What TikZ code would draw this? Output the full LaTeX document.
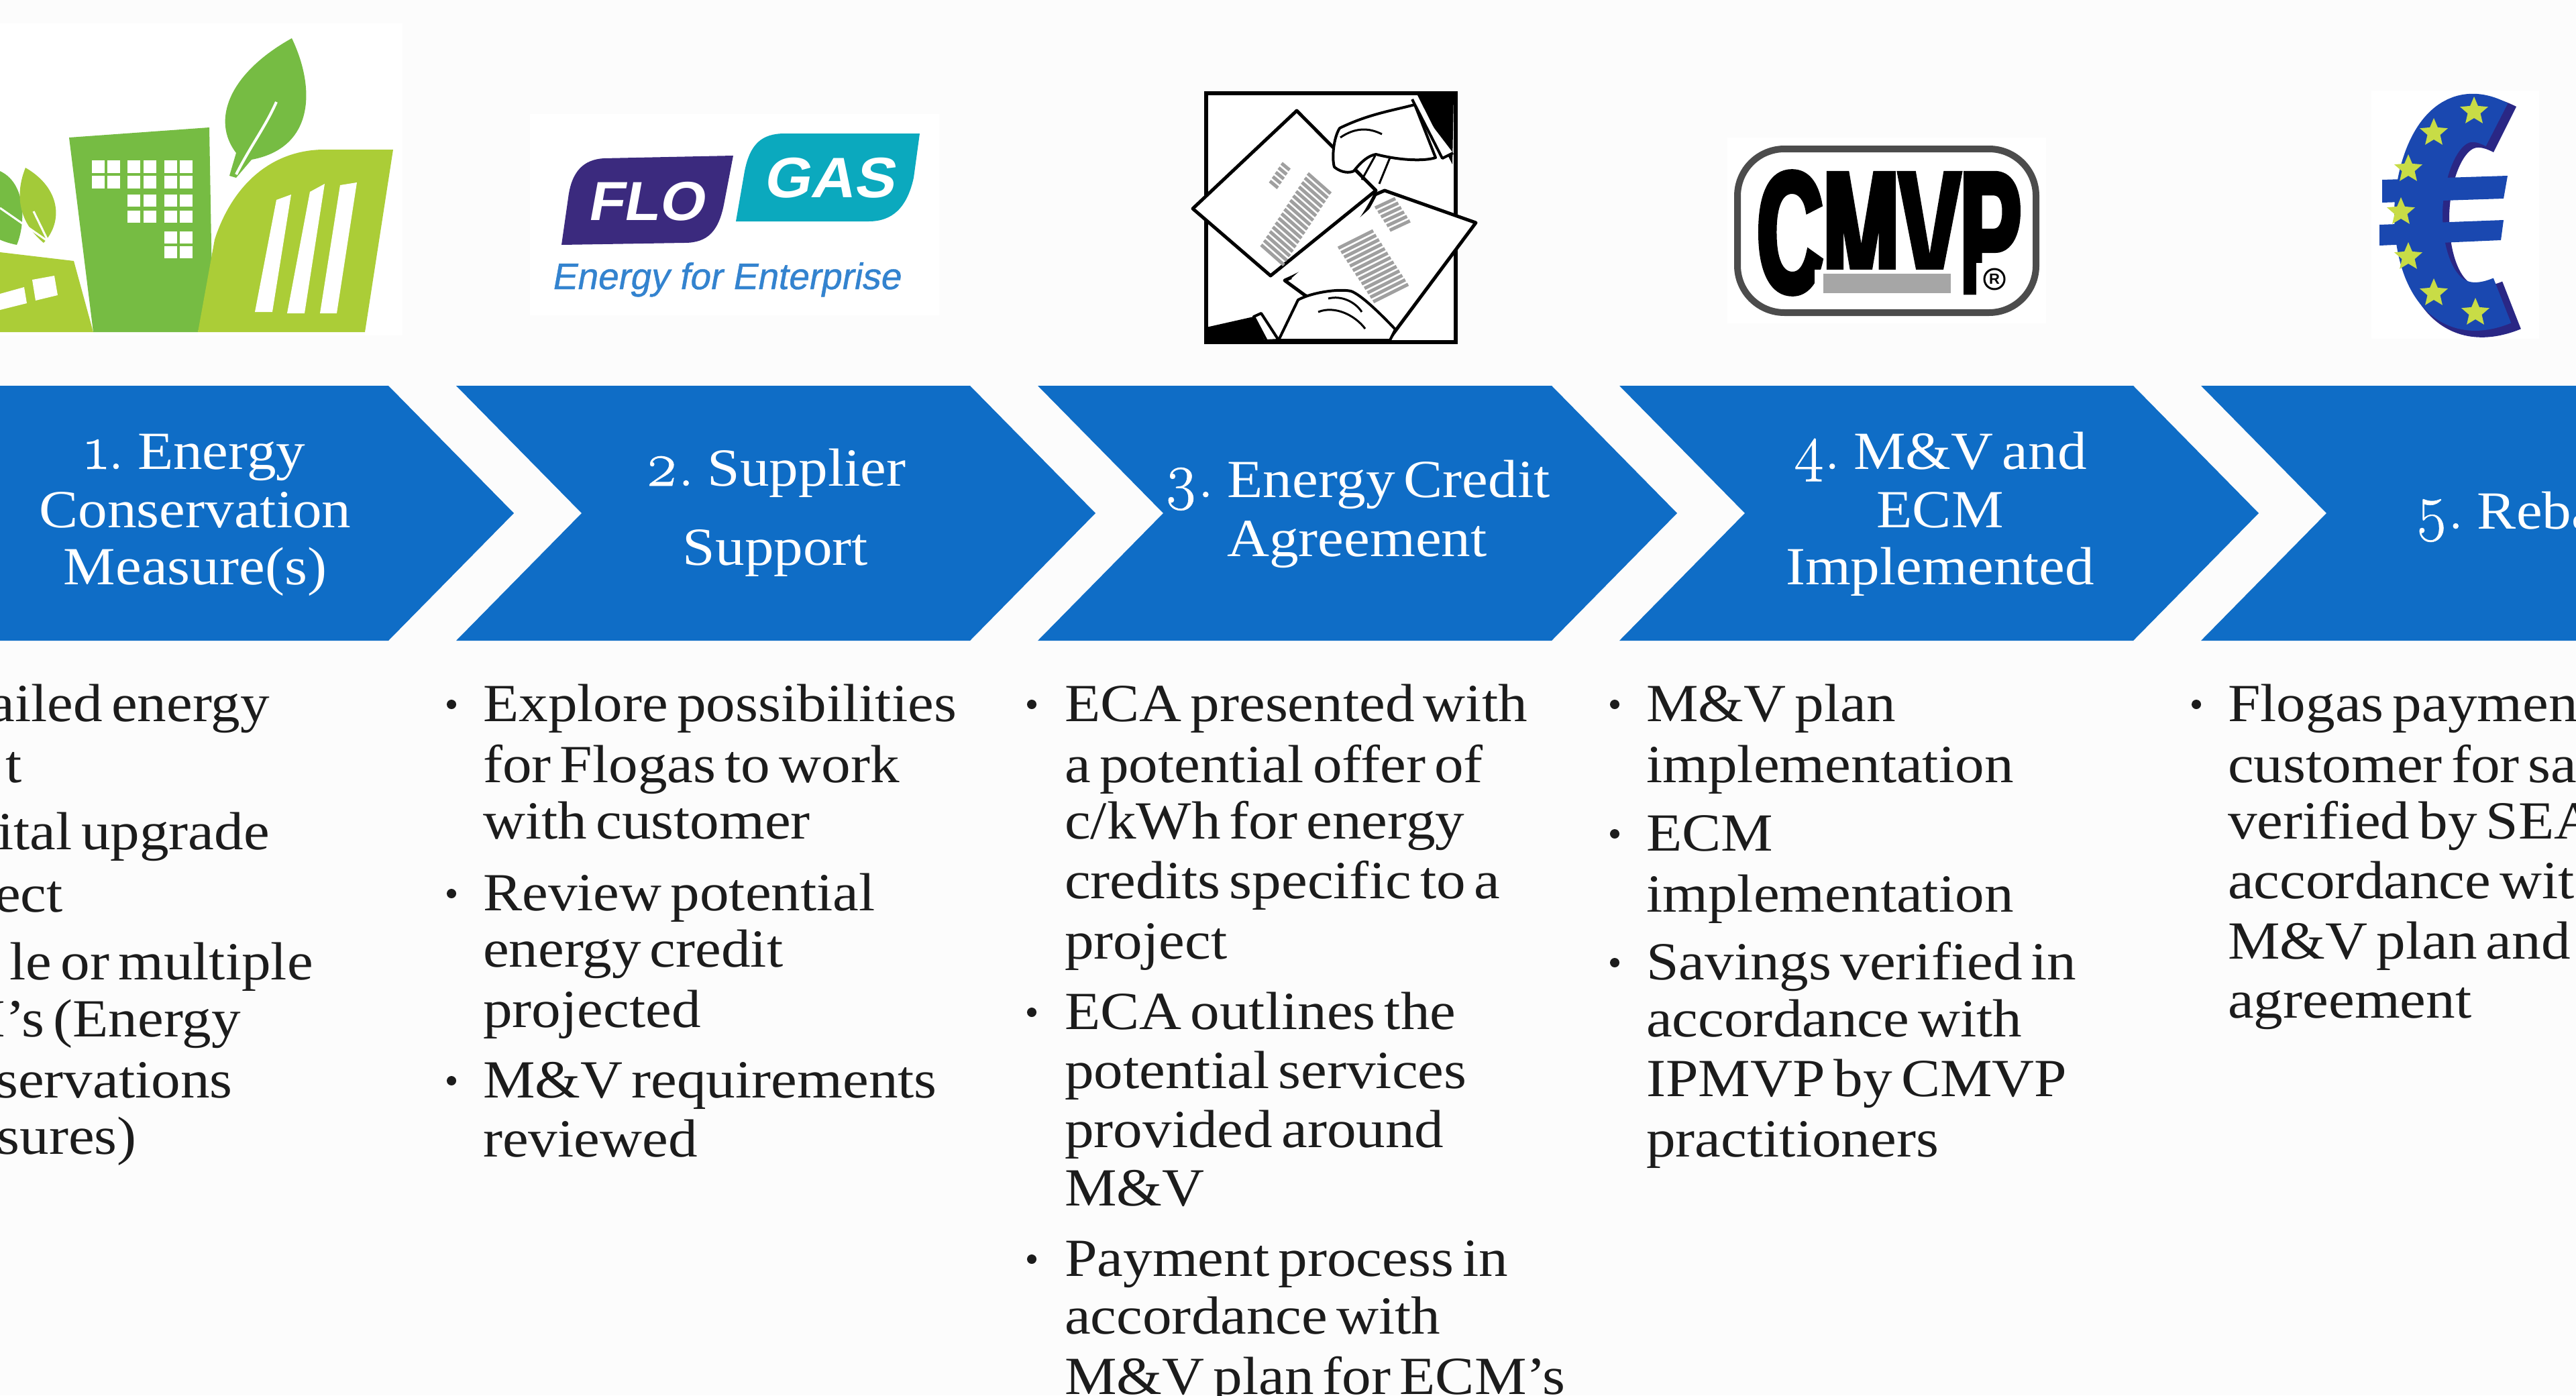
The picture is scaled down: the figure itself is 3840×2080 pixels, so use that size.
\documentclass[tikz,border=0pt]{standalone}
\usepackage{fontspec}
\usetikzlibrary{shapes.geometric,calc}
\setmainfont[FakeStretch=1.09,WordSpace=0.6]{Liberation Serif}
\newfontfamily\osf[Numbers=OldStyle,Scale=1.18,FakeBold=0.7,WordSpace=0.5]{Latin Modern Roman}
\newfontfamily\logosans{Liberation Sans}
\newfontfamily\logoslant[FakeSlant=0.18,FakeStretch=1.06]{Liberation Sans}
\newfontfamily\logothin[FakeSlant=0.18,FakeBold=0.8]{Liberation Sans}
\newfontfamily\cmvpfont[FakeStretch=0.53,FakeBold=3]{Liberation Sans}
\definecolor{chevblue}{HTML}{0F6DC6}
\definecolor{leafgreen}{HTML}{76BC43}
\definecolor{limegreen}{HTML}{ABCD37}
\definecolor{flopurple}{HTML}{3B2A7E}
\definecolor{gasteal}{HTML}{0BA9BE}
\definecolor{eurodark}{HTML}{2A2785}
\definecolor{euroblue}{HTML}{1A48B0}
\definecolor{starlime}{HTML}{C8DC46}
\definecolor{pagebg}{HTML}{FCFCFC}
\definecolor{bodyink}{HTML}{1C1C1C}
\tikzset{
  x=1pt,y=-1pt,
  chev/.style={fill=chevblue,draw=none},
  headtext/.style={text=white,inner sep=0pt,font=\fontsize{80}{86}\selectfont,anchor=base},
  bodyline/.style={text=bodyink,inner sep=0pt,font=\fontsize{80}{88}\selectfont,anchor=base west},
  bodyend/.style={bodyline,anchor=base east},
  bulletdot/.style={circle,fill=bodyink,inner sep=0pt,minimum size=14pt},
  whitezone/.style={fill=white,draw=none},
  win/.style={fill=white,draw=none},
  paper/.style={fill=white,draw=black,line width=5pt,line join=round},
  handline/.style={fill=white,draw=black,line width=4pt,line join=round},
  handdetail/.style={draw=black,line width=3pt},
  inkmark/.style={draw=gray!75,line width=5pt},
  eurostar/.style={star,star points=5,star point ratio=2.2,fill=starlime,inner sep=0pt,minimum size=44pt},
}
\newcommand{\chevat}[1]{%
  \fill[chev] (#1,575) -- ++(766,0) -- ++(187,190) -- ++(-187,190) -- ++(-766,0) -- ++(187,-190) -- cycle;}
\newcommand{\bodyat}[4]{\node[bodyline] (#1) at (#2,#3) {#4};}
\newcommand{\dotat}[3]{\node[bulletdot] (#1) at (#2,#3) {};}
\begin{document}
\begin{tikzpicture}
\useasboundingbox (0,0) rectangle (3840,2080);
\clip (0,0) rectangle (3840,2080);
\fill[pagebg] (0,0) rectangle (3840,2080);
% white zones behind logos
\fill[whitezone] (0,35) rectangle (600,500);
\fill[whitezone] (790,170) rectangle (1400,470);
\fill[whitezone] (2575,205) rectangle (3050,482);
\fill[whitezone] (3535,135) rectangle (3785,505);
% chevrons
\chevat{-187}\chevat{680}\chevat{1547}\chevat{2414}\chevat{3281}
% headings
\node[headtext] (h1a) at (291,699) {{\osf 1.} Energy};
\node[headtext] (h1b) at (291,786) {Conservation};
\node[headtext] (h1c) at (291,871) {Measure(s)};
\node[headtext] (h2a) at (1156,724) {{\osf 2.} Supplier};
\node[headtext] (h2b) at (1156,842) {Support};
\node[headtext] (h3a) at (2023,741) {{\osf 3.} Energy Credit};
\node[headtext] (h3b) at (2023,829) {Agreement};
\node[headtext] (h4a) at (2892,699) {{\osf 4.} M\&V and};
\node[headtext] (h4b) at (2892,786) {ECM};
\node[headtext] (h4c) at (2892,871) {Implemented};
\node[headtext,anchor=base west] (h5a) at (3600,788) {{\osf 5.} Reba};
% column 1 (cut by the left edge)
\node[bodyend] (a1) at (402,1075) {ailed energy};
\node[bodyend] (a2) at (33,1166) {t};
\node[bodyend] (a3) at (402,1266) {ital upgrade};
\node[bodyend] (a4) at (94,1359) {ect};
\node[bodyend] (a5) at (467,1460) {le or multiple};
\node[bodyend] (a6) at (359,1545) {M’s (Energy};
\node[bodyend] (a7) at (347,1636) {servations};
\node[bodyend] (a8) at (204,1720) {sures)};
% column 2
\dotat{b0}{673}{1050}\dotat{b00}{673}{1332}\dotat{b000}{673}{1611}
\bodyat{b1}{720}{1075}{Explore possibilities}
\bodyat{b2}{720}{1166}{for Flogas to work}
\bodyat{b3}{720}{1250}{with customer}
\bodyat{b4}{720}{1357}{Review potential}
\bodyat{b5}{720}{1441}{energy credit}
\bodyat{b6}{720}{1531}{projected}
\bodyat{b7}{720}{1636}{M\&V requirements}
\bodyat{b8}{720}{1724}{reviewed}
% column 3
\dotat{c0}{1538}{1050}\dotat{c00}{1538}{1509}\dotat{c000}{1538}{1877}
\bodyat{c1}{1587}{1075}{ECA presented with}
\bodyat{c2}{1587}{1166}{a potential offer of}
\bodyat{c3}{1587}{1250}{c/kWh for energy}
\bodyat{c4}{1587}{1339}{credits specific to a}
\bodyat{c5}{1587}{1429}{project}
\bodyat{c6}{1587}{1534}{ECA outlines the}
\bodyat{c7}{1587}{1622}{potential services}
\bodyat{c8}{1587}{1710}{provided around}
\bodyat{c9}{1587}{1797}{M\&V}
\bodyat{c10}{1587}{1902}{Payment process in}
\bodyat{c11}{1587}{1988}{accordance with}
\bodyat{c12}{1587}{2078}{M\&V plan for ECM’s}
% column 4
\dotat{d0}{2407}{1050}\dotat{d00}{2407}{1243}\dotat{d000}{2407}{1435}
\bodyat{d1}{2454}{1075}{M\&V plan}
\bodyat{d2}{2454}{1166}{implementation}
\bodyat{d3}{2454}{1268}{ECM}
\bodyat{d4}{2454}{1359}{implementation}
\bodyat{d5}{2454}{1460}{Savings verified in}
\bodyat{d6}{2454}{1545}{accordance with}
\bodyat{d7}{2454}{1634}{IPMVP by CMVP}
\bodyat{d8}{2454}{1724}{practitioners}
% column 5
\dotat{e0}{3274}{1050}
\bodyat{e1}{3321}{1075}{Flogas paymen}
\bodyat{e2}{3321}{1166}{customer for sa}
\bodyat{e3}{3321}{1250}{verified by SEA}
\bodyat{e4}{3321}{1339}{accordance wit}
\bodyat{e5}{3321}{1429}{M\&V plan and}
\bodyat{e6}{3321}{1517}{agreement}
% --- green city logo ---
\fill[leafgreen] (103,205) -- (312,190) -- (316,420) -- (295,495) -- (139,495) -- cycle;
\foreach \wx in {137,160,190,214,245,268}{\foreach \wy in {239,262}{\fill[win] (\wx,\wy) rectangle ++(19,19);}}
\foreach \wx in {190,214,245,268}{\foreach \wy in {290,314}{\fill[win] (\wx,\wy) rectangle ++(19,18);}}
\foreach \wx in {245,268}{\foreach \wy in {345,367}{\fill[win] (\wx,\wy) rectangle ++(19,18);}}
\fill[limegreen] (295,495) -- (320,357) .. controls (345,280) and (400,225) .. (480,223) -- (586,223) -- (544,495) -- cycle;
\fill[win] (380,465) -- (406,465) -- (434,290) -- (412,298) -- cycle;
\fill[win] (428,467) -- (454,467) -- (484,274) -- (462,286) -- cycle;
\fill[win] (477,467) -- (502,467) -- (532,272) -- (507,276) -- cycle;
\fill[leafgreen] (435,57) .. controls (470,130) and (470,220) .. (375,238) -- (352,265) -- (342,262) -- (352,228) .. controls (315,180) and (340,110) .. (435,57) -- cycle;
\draw[white,line width=4pt] (352,260) .. controls (375,215) and (395,190) .. (412,152);
\fill[limegreen] (0,376) -- (110,389) -- (139,495) -- (0,495) -- cycle;
\fill[win] (48,417) -- (81,411) -- (86,440) -- (53,448) -- cycle;
\fill[win] (0,438) -- (36,428) -- (40,452) -- (0,462) -- cycle;
\fill[leafgreen] (-20,250) .. controls (40,255) and (40,330) .. (25,365) .. controls (0,360) and (-20,350) .. (-30,330) -- cycle;
\fill[limegreen!85!leafgreen] (38,250) .. controls (30,270) and (15,320) .. (65,362) .. controls (95,330) and (90,280) .. (38,250) -- cycle;
\draw[white,line width=3pt] (0,310) -- (72,360);
\draw[white,line width=3pt] (50,315) -- (72,360);
% --- Flogas logo ---
\fill[flopurple] (837,365) -- (847,295) .. controls (852,255) and (870,238) .. (900,236) -- (1093,232) -- (1080,300) .. controls (1072,345) and (1055,362) .. (1020,362) -- cycle;
\node[text=white,inner sep=0pt,font=\logoslant\bfseries\fontsize{82}{82}\selectfont] (flo) at (962,300) {FLO};
\fill[gasteal] (1097,330) -- (1110,255) .. controls (1118,215) and (1135,199) .. (1170,199) -- (1371,199) -- (1362,265) .. controls (1352,310) and (1330,330) .. (1295,330) -- cycle;
\node[text=white,inner sep=0pt,font=\logoslant\bfseries\fontsize{85}{85}\selectfont] (gas) at (1235,265) {GAS};
\node[text=chevblue!85!white,inner sep=0pt,anchor=base,font=\logothin\fontsize{55}{55}\selectfont] (enterprise) at (1082,431) {Energy for Enterprise};
% --- agreement drawing ---
\draw[black,line width=6pt,fill=white] (1798,139) rectangle (2170,510);
\fill[black] (2113,142) -- (2167,142) -- (2165,245) -- cycle;
\fill[black] (1798,488) -- (1869,472) -- (1885,507) -- (1798,507) -- cycle;
\draw[paper] (1933,165) -- (1778,311) -- (1894,411) -- (2051,284) -- cycle;
\draw[paper] (2050,290) .. controls (2020,350) and (1980,390) .. (1915,418) -- (1945,440) -- (2072,504) -- (2200,332) -- (2064,284) -- cycle;
\fill[white] (1925,415) -- (2060,295) -- (2070,310) -- (1940,425) -- cycle;
\draw[handline] (2109,156) .. controls (2075,165) and (2040,170) .. (1997,191) .. controls (1988,205) and (1985,235) .. (1989,249) .. controls (2000,258) and (2012,258) .. (2018,255) .. controls (2030,240) and (2040,232) .. (2051,230) .. controls (2090,240) and (2125,240) .. (2140,235) -- cycle;
\draw[handline] (2105,148) -- (2150,236) -- (2166,228);
\draw[handdetail] (2050,232) -- (2030,268);
\draw[handdetail] (2072,235) -- (2056,274);
\draw[handdetail] (1998,205) .. controls (2020,190) and (2040,190) .. (2060,200);
\draw[handline] (1935,447) .. controls (1955,436) and (1995,430) .. (2014,434) .. controls (2030,440) and (2060,470) .. (2080,491) -- (2072,507) -- (1906,507) -- cycle;
\draw[handline] (1869,472) -- (1888,508) -- (1906,507) -- (1880,467) -- cycle;
\draw[handdetail] (1965,465) .. controls (1990,455) and (2020,470) .. (2035,490);
\draw[handdetail] (1980,445) .. controls (2000,440) and (2020,450) .. (2030,465);
\foreach \t in {0,7,...,112}{
  \draw[inkmark] ($(1880,365)+(0.62*\t,-0.95*\t)$) -- ++(34,30);
}
\foreach \t in {0,7,...,28}{
  \draw[inkmark] ($(1905,280)+(0.62*\t,-0.95*\t)$) -- ++(-12,-10);
}
\foreach \t in {0,7,...,84}{
  \draw[inkmark] ($(1995,370)+(0.62*\t,0.95*\t)$) -- ++(52,-26);
}
\foreach \t in {0,7,...,35}{
  \draw[inkmark] ($(2050,310)+(0.62*\t,0.95*\t)$) -- ++(30,-14);
}
% --- CMVP logo ---
\draw[line width=10pt,draw=gray!60!black,fill=white,rounded corners=70pt] (2590,222) rectangle (3035,466);
\node[text=black,inner sep=0pt,font=\cmvpfont\bfseries\fontsize{257}{257}\selectfont] (cmvp) at (2816,347) {CMVP};
\fill[white] (2705,402) rectangle (2918,445);
\fill[white] (2946,392) rectangle (3005,445);
\fill[gray!70] (2718,408) rectangle (2908,437);
\node[circle,draw=black,line width=3pt,inner sep=0pt,minimum size=30pt,font=\logosans\bfseries\fontsize{22}{22}\selectfont] (reg) at (2973,416) {R};
% --- euro sign ---
\begin{scope}[shift={(6,5)}]
\draw[eurodark,line width=76pt] (3728,188) .. controls (3640,142) and (3607,250) .. (3607,320) .. controls (3607,400) and (3640,490) .. (3738,450);
\end{scope}
\draw[euroblue,line width=72pt] (3722,186) .. controls (3640,142) and (3605,250) .. (3605,320) .. controls (3605,400) and (3640,485) .. (3730,448);
\fill[euroblue] (3551,268) -- (3738,262) -- (3732,296) -- (3551,302) -- cycle;
\fill[euroblue] (3547,335) -- (3732,328) -- (3728,358) -- (3547,366) -- cycle;
\foreach \sx/\sy [count=\si] in {3688/166,3628/198,3590/252,3579/316,3590/383,3628/437,3690/466}{
  \node[eurostar] (star\si) at (\sx,\sy) {};
}
\end{tikzpicture}
\end{document}
